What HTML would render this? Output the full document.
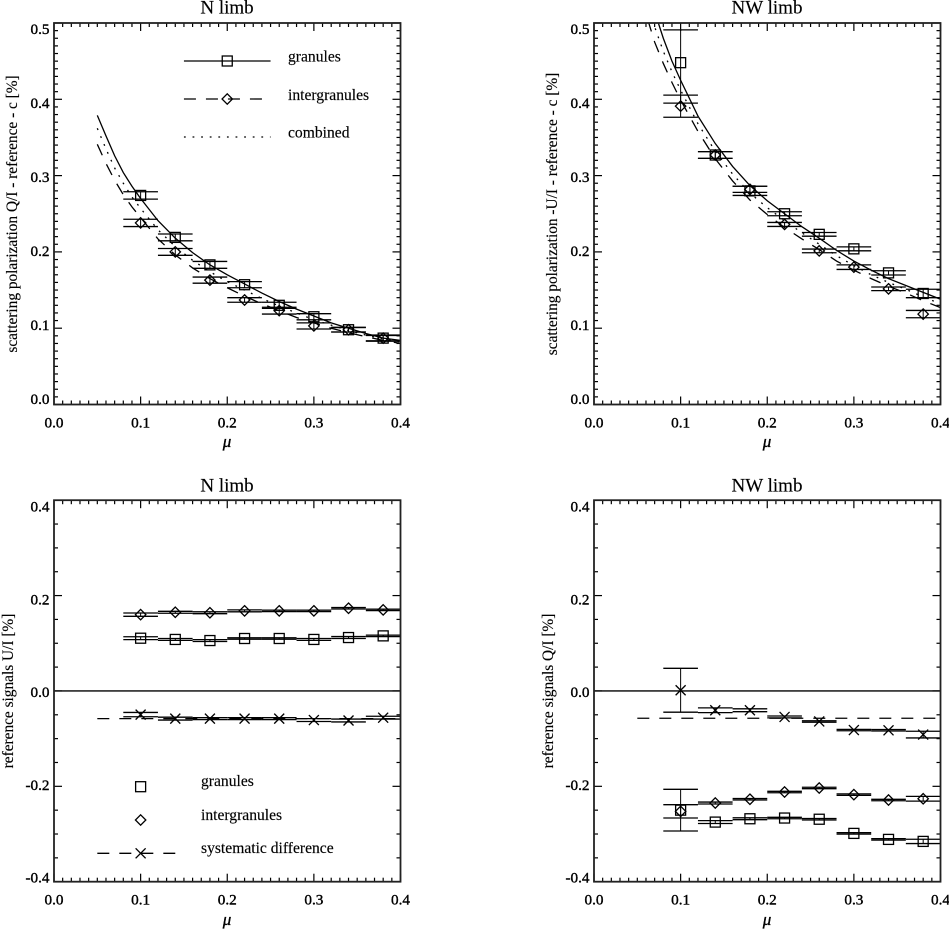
<!DOCTYPE html>
<html lang="en">
<head>
<meta charset="utf-8">
<title>Scattering polarization and reference signals</title>
<style>
html,body{margin:0;padding:0;background:#fff;}
svg{display:block;}
text{font-family:"Liberation Serif",serif;fill:#000;stroke:#000;stroke-width:.15px;}
.title{font-size:19px;text-anchor:middle;}
.tick{font-size:15.2px;stroke-width:.4px;}
.ytitle{font-size:15.35px;text-anchor:middle;}
.leg{font-size:15.6px;}
.mu{font-size:17px;font-style:italic;text-anchor:middle;stroke-width:.35px;}
</style>
</head>
<body>
<svg id="fig" width="949" height="930" viewBox="0 0 949 930" xmlns="http://www.w3.org/2000/svg">
<rect width="949" height="930" fill="#fff"/>

<g id="p1">
<text class="title" x="227" y="13.5">N limb</text>
<text class="ytitle" transform="translate(17 214) rotate(-90)">scattering polarization Q/I - reference - c [%]</text>
<text class="mu" x="227" y="447">μ</text>
<text class="leg" x="288" y="61.5">granules</text>
<text class="leg" x="288" y="100">intergranules</text>
<text class="leg" x="288" y="137.5">combined</text>
</g>

<g id="p2">
<text class="title" x="767" y="13.5">NW limb</text>
<text class="ytitle" transform="translate(557 214) rotate(-90)">scattering polarization -U/I - reference - c [%]</text>
<text class="mu" x="767" y="447">μ</text>
</g>

<g id="p3">
<text class="title" x="227" y="491.5">N limb</text>
<text class="ytitle" transform="translate(13 691) rotate(-90)">reference signals U/I [%]</text>
<text class="mu" x="227" y="925">μ</text>
<text class="leg" x="201" y="786">granules</text>
<text class="leg" x="201" y="820">intergranules</text>
<text class="leg" x="201" y="853">systematic difference</text>
</g>

<g id="p4">
<text class="title" x="767" y="491.5">NW limb</text>
<text class="ytitle" transform="translate(553 691) rotate(-90)">reference signals Q/I [%]</text>
<text class="mu" x="767" y="925">μ</text>
</g>
</svg>

<script>
// ---- shared categories and tick labels ----
const muBins = [0.10, 0.14, 0.18, 0.22, 0.26, 0.30, 0.34, 0.38];
const muCurve = [0.05,0.06,0.07,0.08,0.09,0.10,0.12,0.14,0.16,0.18,0.20,0.22,0.24,0.26,0.28,0.30,0.32,0.34,0.36,0.38,0.40];
const xTickLabels = ["0.0","0.1","0.2","0.3","0.4"];
const topYTickLabels = ["0.0","0.1","0.2","0.3","0.4","0.5"];
const bottomYTickLabels = ["-0.4","-0.2","0.0","0.2","0.4"];

// ---- N limb, scattering polarization ----
const nScatGranules      = [0.274,0.219,0.183,0.157,0.130,0.115,0.098,0.087];
const nScatGranulesErr   = [0.0048,0.0045,0.0045,0.0040,0.0040,0.0040,0.0030,0.0035];
const nScatInter         = [0.238,0.200,0.163,0.137,0.123,0.103,0.098,0.087];
const nScatInterErr      = [0.0048,0.0045,0.0040,0.0030,0.0045,0.0040,0.0030,0.0040];
const nFitGranules = [0.379,0.352,0.326,0.304,0.286,0.270,0.241,0.218,0.199,0.183,0.170,0.158,0.146,0.135,0.125,0.116,0.107,0.100,0.093,0.087,0.084];
const nFitInter    = [0.341,0.316,0.294,0.275,0.259,0.245,0.217,0.196,0.179,0.165,0.153,0.142,0.132,0.123,0.114,0.107,0.100,0.094,0.089,0.084,0.080];
const nFitCombined = [0.362,0.335,0.310,0.290,0.272,0.257,0.229,0.207,0.189,0.174,0.161,0.150,0.139,0.129,0.120,0.111,0.104,0.097,0.091,0.086,0.082];

// ---- NW limb, scattering polarization ----
const nwScatGranules     = [0.448,0.327,0.280,0.250,0.223,0.204,0.1725,0.1455];
const nwScatGranulesUp   = [0.043,0.0044,0.0060,0.0026,0.0024,0.0026,0.0028,0.0055];
const nwScatGranulesDown = [0.053,0.0044,0.0060,0.0026,0.0024,0.0026,0.0028,0.0055];
const nwScatInter        = [0.391,0.327,0.282,0.236,0.2013,0.180,0.1516,0.1185];
const nwScatInterErr     = [0.0145,0.0044,0.0040,0.0026,0.0024,0.0030,0.0024,0.0048];
const nwFitGranules = [0.600,0.560,0.515,0.480,0.450,0.425,0.378,0.342,0.312,0.287,0.267,0.250,0.233,0.218,0.202,0.188,0.176,0.165,0.156,0.147,0.138];
const nwFitInter    = [0.560,0.512,0.475,0.447,0.422,0.399,0.358,0.322,0.293,0.268,0.249,0.232,0.217,0.203,0.188,0.176,0.165,0.155,0.146,0.136,0.127];
const nwFitCombined = [0.580,0.535,0.495,0.463,0.436,0.412,0.368,0.332,0.302,0.277,0.258,0.241,0.225,0.210,0.195,0.182,0.170,0.160,0.151,0.141,0.132];

// ---- N limb, reference signals ----
const nRefGranules    = [0.1106,0.108,0.1057,0.110,0.110,0.108,0.112,0.1155];
const nRefGranulesErr = [0.003,0.002,0.002,0.0015,0.0015,0.002,0.002,0.0015];
const nRefInter       = [0.160,0.165,0.164,0.168,0.168,0.168,0.1735,0.170];
const nRefInterErr    = [0.0035,0.002,0.002,0.002,0.0015,0.0015,0.0015,0.0015];
const nRefDiff        = [-0.0496,-0.058,-0.058,-0.058,-0.058,-0.061,-0.062,-0.056];
const nRefDiffErr     = [0.0045,0.003,0.002,0.002,0.002,0.003,0.003,0.003];
const nRefDiffMean    = -0.058;

// ---- NW limb, reference signals ----
const nwRefGranules    = [-0.250,-0.275,-0.268,-0.2665,-0.269,-0.2987,-0.3113,-0.3155];
const nwRefGranulesErr = [0.0437,0.003,0.002,0.0015,0.0015,0.0015,0.0015,0.0045];
const nwRefInter       = [-0.2525,-0.235,-0.227,-0.212,-0.2035,-0.2175,-0.2287,-0.226];
const nwRefInterErr    = [0.014,0.002,0.0015,0.0015,0.0015,0.0015,0.0015,0.005];
const nwRefDiff        = [0.0015,-0.0405,-0.0405,-0.0545,-0.064,-0.082,-0.0825,-0.0915];
const nwRefDiffErr     = [0.046,0.005,0.003,0.002,0.0015,0.0015,0.0015,0.007];
const nwRefDiffMean    = -0.0573;

const SVGNS = "http://www.w3.org/2000/svg";
const INK = "#000";
const LW = 1.3;

function shape(parent, tag, attrs, name) {
  const el = document.createElementNS(SVGNS, tag);
  for (const k in attrs) el.setAttribute(k, attrs[k]);
  
  
  parent.appendChild(el);
  return el;
}
function seg(parent, x1, y1, x2, y2, w, name) {
  return shape(parent, 'line', {x1:x1, y1:y1, x2:x2, y2:y2, stroke:INK, 'stroke-width':w}, name);
}
function group(parent, name) {
  return shape(parent, 'g', {}, name);
}

function makeAxes(x0, x1, yTop, yBottom, vTop, vBottom) {
  return {
    x: mu => x0 + (mu / 0.4) * (x1 - x0),
    y: v => yBottom + (v - vBottom) / (vTop - vBottom) * (yTop - yBottom),
    x0, x1, yTop, yBottom, vTop, vBottom
  };
}

function drawFrame(g, ax, yMinorStep, yMajorStep, yLabels, labelBaseline) {
  const ticks = group(g, 'axis-ticks');
  for (let i = 0; i <= 40; i++) {
    const px = ax.x(i / 100);
    const len = i % 10 === 0 ? 8 : 4;
    seg(ticks, px, ax.yBottom, px, ax.yBottom - len, 1.2, 'x-tick');
    seg(ticks, px, ax.yTop, px, ax.yTop + len, 1.2, 'x-tick');
  }
  const nY = Math.round((ax.vTop - ax.vBottom) / yMinorStep);
  const every = Math.round(yMajorStep / yMinorStep);
  for (let i = 0; i <= nY; i++) {
    const py = ax.y(ax.vBottom + i * yMinorStep);
    const len = i % every === 0 ? 8 : 4;
    seg(ticks, ax.x0, py, ax.x0 + len, py, 1.2, 'y-tick');
    seg(ticks, ax.x1, py, ax.x1 - len, py, 1.2, 'y-tick');
  }
  shape(g, 'rect', {x:ax.x0, y:ax.yTop, width:ax.x1-ax.x0, height:ax.yBottom-ax.yTop, fill:'none', stroke:'#222', 'stroke-width':1.8}, 'plot-frame');
  xTickLabels.forEach(label => {
    const t = shape(g, 'text', {class:'tick', x:ax.x(parseFloat(label)), y:ax.yBottom + 23, 'text-anchor':'middle'}, 'x-tick-label');
    t.textContent = label;
  });
  yLabels.forEach(label => {
    const t = shape(g, 'text', {class:'tick', x:ax.x0 - 4.5, y:labelBaseline(parseFloat(label)), 'text-anchor':'end'}, 'y-tick-label');
    t.textContent = label;
  });
}

function addClip(g, id, ax) {
  const cp = shape(g, 'clipPath', {id:id}, 'plot-clip');
  shape(cp, 'rect', {x:ax.x0, y:ax.yTop, width:ax.x1-ax.x0, height:ax.yBottom-ax.yTop}, 'plot-clip-rect');
}

function drawCurve(g, ax, mus, vals, dash, w, clipId, name) {
  const pts = mus.map((m, i) => ax.x(m).toFixed(2) + ',' + ax.y(vals[i]).toFixed(2)).join(' ');
  const attrs = {points:pts, fill:'none', stroke:INK, 'stroke-width':w, 'clip-path':'url(#' + clipId + ')'};
  if (dash) attrs['stroke-dasharray'] = dash;
  return shape(g, 'polyline', attrs, name);
}

function marker(g, kind, px, py, name) {
  if (kind === 'square') {
    shape(g, 'rect', {x:px-5, y:py-5, width:10, height:10, fill:'none', stroke:INK, 'stroke-width':LW}, name);
  } else if (kind === 'diamond') {
    const r = 5.2;
    shape(g, 'polygon', {points:[px,py-r,px+r,py,px,py+r,px-r,py].join(','), fill:'none', stroke:INK, 'stroke-width':LW}, name);
  } else {
    const r = 5;
    const m = group(g, name);
    seg(m, px-r, py-r, px+r, py+r, LW, 'cross-stroke');
    seg(m, px-r, py+r, px+r, py-r, LW, 'cross-stroke');
  }
}

function drawSeries(g, ax, kind, values, errUp, errDown, name) {
  const s = group(g, name);
  values.forEach((v, i) => {
    const m = muBins[i];
    const px = ax.x(m);
    const xa = ax.x(m - 0.02), xb = ax.x(m + 0.02);
    const hi = ax.y(v + errUp[i]), lo = ax.y(v + -errDown[i]);
    seg(s, px, hi, px, lo, 1, 'error-bar');
    seg(s, xa, hi, xb, hi, LW, 'error-cap-upper');
    seg(s, xa, lo, xb, lo, LW, 'error-cap-lower');
    marker(s, kind, px, ax.y(v), 'data-point');
  });
}

const DASH = "12 10";
const DOT = "1.8 6.8";

// ---- Panel 1 ----
{
  const g = document.getElementById('p1');
  const ax = makeAxes(54, 400.5, 23, 404.5, 0.5, 0.0);
  addClip(g, 'clip1', ax);
  drawCurve(g, ax, muCurve, nFitGranules, null, LW, 'clip1', 'fit-granules');
  drawCurve(g, ax, muCurve, nFitInter, DASH, LW, 'clip1', 'fit-intergranules');
  drawCurve(g, ax, muCurve, nFitCombined, DOT, LW, 'clip1', 'fit-combined');
  drawSeries(g, ax, 'square', nScatGranules, nScatGranulesErr, nScatGranulesErr, 'series-granules');
  drawSeries(g, ax, 'diamond', nScatInter, nScatInterErr, nScatInterErr, 'series-intergranules');
  drawFrame(g, ax, 0.01, 0.1, topYTickLabels, v => 404 - 740 * v);
  const leg = group(g, 'legend');
  const la = ax.x(0.15), lb = ax.x(0.25), lc = ax.x(0.2);
  seg(leg, la, 61, lb, 61, LW, 'legend-line-granules');
  marker(leg, 'square', lc, 61, 'legend-marker-granules');
  const d = seg(leg, la, 99, lb, 99, LW, 'legend-line-intergranules');
  d.setAttribute('stroke-dasharray', DASH);
  marker(leg, 'diamond', lc, 99, 'legend-marker-intergranules');
  const c = seg(leg, la, 137, lb, 137, LW, 'legend-line-combined');
  c.setAttribute('stroke-dasharray', DOT);
}

// ---- Panel 2 ----
{
  const g = document.getElementById('p2');
  const ax = makeAxes(594, 940.5, 23, 404.5, 0.5, 0.0);
  addClip(g, 'clip2', ax);
  drawCurve(g, ax, muCurve, nwFitGranules, null, LW, 'clip2', 'fit-granules');
  drawCurve(g, ax, muCurve, nwFitInter, DASH, LW, 'clip2', 'fit-intergranules');
  drawCurve(g, ax, muCurve, nwFitCombined, DOT, LW, 'clip2', 'fit-combined');
  drawSeries(g, ax, 'square', nwScatGranules, nwScatGranulesUp, nwScatGranulesDown, 'series-granules');
  drawSeries(g, ax, 'diamond', nwScatInter, nwScatInterErr, nwScatInterErr, 'series-intergranules');
  drawFrame(g, ax, 0.01, 0.1, topYTickLabels, v => 404 - 740 * v);
}

// ---- Panel 3 ----
{
  const g = document.getElementById('p3');
  const ax = makeAxes(54, 400.5, 500.2, 881.7, 0.4, -0.4);
  addClip(g, 'clip3', ax);
  seg(g, ax.x0, ax.y(0), ax.x1, ax.y(0), LW, 'zero-line');
  const mean = seg(g, ax.x(0.05), ax.y(nRefDiffMean), ax.x(0.4), ax.y(nRefDiffMean), LW, 'systematic-difference-mean');
  mean.setAttribute('stroke-dasharray', DASH);
  drawSeries(g, ax, 'square', nRefGranules, nRefGranulesErr, nRefGranulesErr, 'series-granules');
  drawSeries(g, ax, 'diamond', nRefInter, nRefInterErr, nRefInterErr, 'series-intergranules');
  drawSeries(g, ax, 'cross', nRefDiff, nRefDiffErr, nRefDiffErr, 'series-systematic-difference');
  drawFrame(g, ax, 0.05, 0.2, bottomYTickLabels, v => 697 - 463.75 * v);
  const leg = group(g, 'legend');
  const lc = ax.x(0.1);
  marker(leg, 'square', lc, 786.7, 'legend-marker-granules');
  marker(leg, 'diamond', lc, 820, 'legend-marker-intergranules');
  const d = seg(leg, ax.x(0.05), 853.3, ax.x(0.14), 853.3, LW, 'legend-line-systematic-difference');
  d.setAttribute('stroke-dasharray', DASH);
  marker(leg, 'cross', lc, 853.3, 'legend-marker-systematic-difference');
}

// ---- Panel 4 ----
{
  const g = document.getElementById('p4');
  const ax = makeAxes(594, 940.5, 500.2, 881.7, 0.4, -0.4);
  addClip(g, 'clip4', ax);
  seg(g, ax.x0, ax.y(0), ax.x1, ax.y(0), LW, 'zero-line');
  const mean = seg(g, ax.x(0.05), ax.y(nwRefDiffMean), ax.x(0.4), ax.y(nwRefDiffMean), LW, 'systematic-difference-mean');
  mean.setAttribute('stroke-dasharray', DASH);
  drawSeries(g, ax, 'square', nwRefGranules, nwRefGranulesErr, nwRefGranulesErr, 'series-granules');
  drawSeries(g, ax, 'diamond', nwRefInter, nwRefInterErr, nwRefInterErr, 'series-intergranules');
  drawSeries(g, ax, 'cross', nwRefDiff, nwRefDiffErr, nwRefDiffErr, 'series-systematic-difference');
  drawFrame(g, ax, 0.05, 0.2, bottomYTickLabels, v => 697 - 463.75 * v);
}
</script>
</body>
</html>
